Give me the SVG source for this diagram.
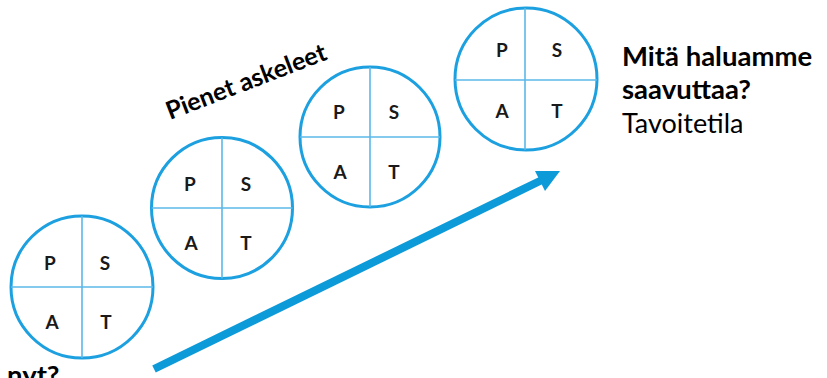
<svg xmlns="http://www.w3.org/2000/svg" width="827" height="378" viewBox="0 0 827 378">
  <defs>
    <style>
      .ring { fill: #ffffff; stroke: #1ca0e0; stroke-width: 3; }
      .cross { stroke: #5ab8e8; stroke-width: 1.6; fill: none; }
      .lbl { font-family: Lato, "Open Sans", "Liberation Sans", sans-serif; font-weight: bold; font-size: 19px; fill: #1a1a1a; text-anchor: middle; }
      .head { font-family: Lato, "Open Sans", "Liberation Sans", sans-serif; font-weight: bold; font-size: 27.5px; fill: #000000; }
      .sub { font-family: Lato, "Open Sans", "Liberation Sans", sans-serif; font-weight: normal; font-size: 27px; fill: #000000; }
      .arrow { stroke: #0d9ad9; stroke-width: 8; fill: none; }
      .arrowhead { fill: #0d9ad9; }
    </style>
  </defs>
  <rect width="827" height="378" fill="#ffffff"/>

  <g id="circle1">
    <circle class="ring" cx="82" cy="287" r="71"/>
    <line class="cross" x1="11" y1="287" x2="153" y2="287"/>
    <line class="cross" x1="82" y1="216" x2="82" y2="358"/>
    <text class="lbl" x="50" y="270">P</text>
    <text class="lbl" x="105" y="270">S</text>
    <text class="lbl" x="52" y="329">A</text>
    <text class="lbl" x="106" y="329">T</text>
  </g>

  <g id="circle2">
    <circle class="ring" cx="222" cy="208" r="70.5"/>
    <line class="cross" x1="151.5" y1="208" x2="292.5" y2="208"/>
    <line class="cross" x1="222" y1="137.5" x2="222" y2="278.5"/>
    <text class="lbl" x="190" y="191">P</text>
    <text class="lbl" x="246" y="191">S</text>
    <text class="lbl" x="191" y="250">A</text>
    <text class="lbl" x="246" y="250">T</text>
  </g>

  <g id="circle3">
    <circle class="ring" cx="370" cy="137" r="70"/>
    <line class="cross" x1="300" y1="137" x2="440" y2="137"/>
    <line class="cross" x1="370" y1="67" x2="370" y2="207"/>
    <text class="lbl" x="339" y="119">P</text>
    <text class="lbl" x="394" y="119">S</text>
    <text class="lbl" x="340" y="179">A</text>
    <text class="lbl" x="394" y="179">T</text>
  </g>

  <g id="circle4">
    <circle class="ring" cx="526" cy="79" r="71"/>
    <line class="cross" x1="455" y1="80" x2="597" y2="80"/>
    <line class="cross" x1="525" y1="8" x2="525" y2="150"/>
    <text class="lbl" x="502" y="57">P</text>
    <text class="lbl" x="557" y="57">S</text>
    <text class="lbl" x="502" y="118">A</text>
    <text class="lbl" x="557" y="118">T</text>
  </g>

  <g id="connectors">
    <line class="arrow" x1="154" y1="369" x2="542" y2="180"/>
    <polygon class="arrowhead" points="560,171 535,171 545,191"/>
  </g>

  <g id="label-steps">
    <text class="head" style="font-size:25px" transform="translate(170,120) rotate(-21)">Pienet askeleet</text>
  </g>

  <g id="label-goal">
    <text class="head" x="622" y="66">Mitä haluamme</text>
    <text class="head" x="622" y="99">saavuttaa?</text>
    <text class="sub" x="622" y="133">Tavoitetila</text>
  </g>

  <g id="label-now">
    <text class="head" x="7" y="385">nyt?</text>
  </g>
</svg>
